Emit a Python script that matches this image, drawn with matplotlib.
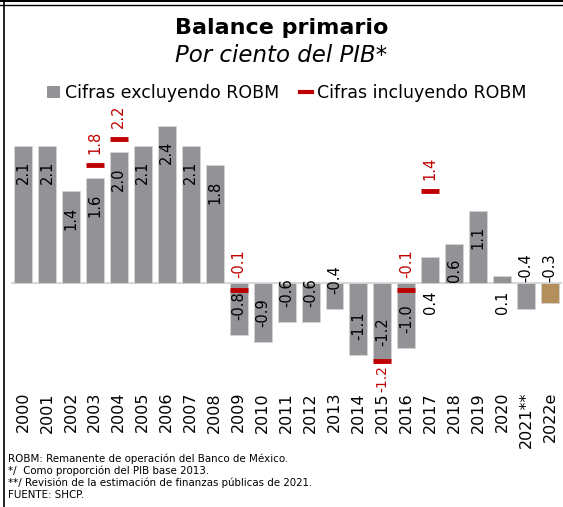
import matplotlib
matplotlib.use('Agg')
import matplotlib.pyplot as plt
from matplotlib.lines import Line2D
from matplotlib.patches import Patch

plt.rcParams['font.family'] = ['DejaVu Sans']

# Balance primario, por ciento del PIB
years = ['2000', '2001', '2002', '2003', '2004', '2005', '2006', '2007', '2008',
         '2009', '2010', '2011', '2012', '2013', '2014', '2015', '2016', '2017',
         '2018', '2019', '2020', '2021**', '2022e']
excl_robm = [2.1, 2.1, 1.4, 1.6, 2.0, 2.1, 2.4, 2.1, 1.8,
             -0.8, -0.9, -0.6, -0.6, -0.4, -1.1, -1.2, -1.0, 0.4,
             0.6, 1.1, 0.1, -0.4, -0.3]

# years in which the operating remnant of Banco de México was received
robm_years = ['2003', '2004', '2009', '2015', '2016', '2017']
incl_robm = [1.8, 2.2, -0.1, -1.2, -0.1, 1.4]

footnotes = [
    'ROBM: Remanente de operación del Banco de México.',
    '*/  Como proporción del PIB base 2013.',
    '**/ Revisión de la estimación de finanzas públicas de 2021.',
    'FUENTE: SHCP.',
]

grey = '#939296'
tan = '#B38F5C'
red = '#C00000'

fig = plt.figure(figsize=(5.63, 5.07), dpi=100)
ax = fig.add_axes([0.0195, 0.2406, 0.979, 0.5424])

x = list(range(len(years)))
colors = [tan if y.endswith('e') else grey for y in years]
ax.bar(x, excl_robm, width=0.75, color=colors, edgecolor='#d4d4d4',
       linewidth=0.6, zorder=2)
ax.axhline(0, color='#d9d9d9', linewidth=1.5, zorder=1)

# value labels, rotated, just inside the end of each bar
outside = {'2017', '2020', '2021**', '2022e'}
for xi, yr, v in zip(x, years, excl_robm):
    if yr in outside:
        if v > 0:
            ax.text(xi, -0.12, f'{v:.1f}', rotation=90, ha='center',
                    va='top', fontsize=10.5, color='black', zorder=3)
        else:
            ax.text(xi, 0.02, f'{v:.1f}', rotation=90, ha='center',
                    va='bottom', fontsize=10.5, color='black', zorder=3)
    elif v > 0:
        ax.text(xi, v - 0.23, f'{v:.1f}', rotation=90, ha='center',
                va='top', fontsize=10.5, color='black', zorder=3)
    else:
        ax.text(xi, v + 0.23, f'{v:.1f}', rotation=90, ha='center',
                va='bottom', fontsize=10.5, color='black', zorder=3)

# figures including ROBM: short red dashes with labels
for yr, v in zip(robm_years, incl_robm):
    xi = years.index(yr)
    ax.hlines(v, xi - 0.375, xi + 0.375, colors=red, linewidth=3.5, zorder=4)
    if v > -0.5:
        ax.text(xi, v + 0.17, f'{v:.1f}', rotation=90, ha='center',
                va='bottom', fontsize=10.5, color=red, zorder=4)
    else:
        ax.text(xi, v - 0.06, f'{v:.1f}', rotation=90, ha='center',
                va='top', fontsize=10, color=red, zorder=4)

ax.set_xlim(-0.5, len(years) - 0.5)
ax.set_ylim(-1.56, 2.645)
ax.set_xticks(x)
ax.set_xticklabels(years, rotation=90, fontsize=11.5)
ax.tick_params(axis='x', length=0, pad=5)
ax.set_yticks([])
for s in ax.spines.values():
    s.set_visible(False)

fig.text(0.5, 1 - 28 / 507, 'Balance primario', ha='center', va='center',
         fontsize=16, fontweight='bold')
fig.text(0.5, 1 - 56 / 507, 'Por ciento del PIB*', ha='center', va='center',
         fontsize=16.5, style='italic')

handles = [Patch(facecolor=grey, edgecolor='none'),
           Line2D([0], [0], color=red, linewidth=3)]
fig.legend(handles, ['Cifras excluyendo ROBM', 'Cifras incluyendo ROBM'],
           loc='center', bbox_to_anchor=(0.51, 1 - 93 / 507), ncol=2,
           frameon=False, fontsize=12.5, handlelength=0.7, handleheight=0.7,
           handletextpad=0.3, columnspacing=1.2)

for i, line in enumerate(footnotes):
    fig.text(8 / 563, 1 - (459 + 12 * i) / 507, line, ha='left', va='center',
             fontsize=7.4)

# frame: double rule on top, single rule on the left
fig.add_artist(Line2D([0, 1], [1 - 1 / 507, 1 - 1 / 507], color='black',
                      linewidth=1.5, transform=fig.transFigure))
fig.add_artist(Line2D([0, 1], [1 - 4.5 / 507, 1 - 4.5 / 507], color='black',
                      linewidth=1, transform=fig.transFigure))
fig.add_artist(Line2D([3.5 / 563, 3.5 / 563], [0, 1 - 1 / 507], color='black',
                      linewidth=1.2, transform=fig.transFigure))

fig.savefig('out.png', dpi=100)
